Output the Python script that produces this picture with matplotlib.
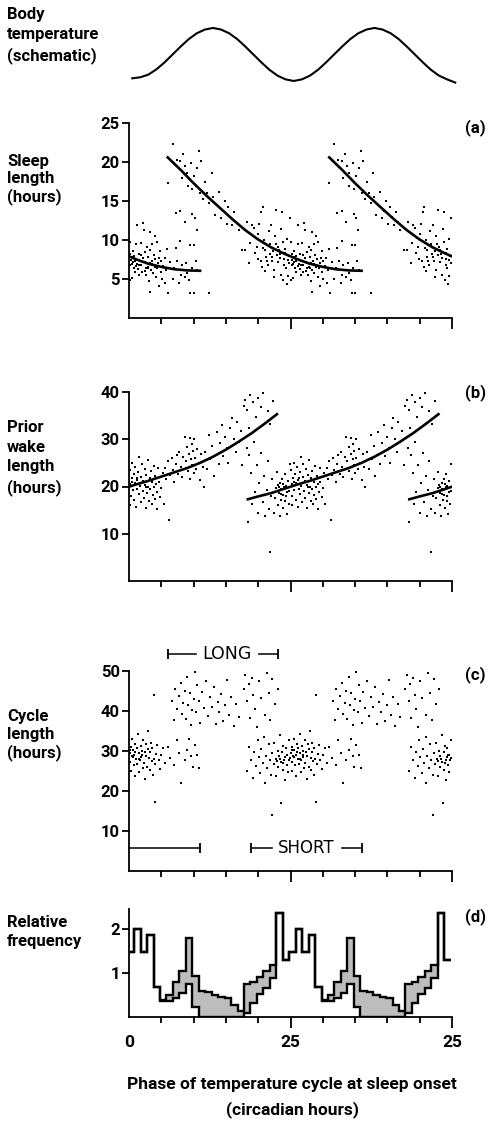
import numpy as np
import matplotlib
matplotlib.use("Agg")
import matplotlib.pyplot as plt

plt.rcParams['font.family'] = ['Roboto', 'DejaVu Sans']
plt.rcParams['font.weight'] = 'bold'

W, H = 494, 1127
PERIOD = 25  # data are double plotted: each cycle repeated 25 circadian hours later

# body temperature schematic
temp_phase = [0.5, 1.75, 3.0, 4.25, 5.5, 6.75, 8.0, 9.25, 10.5, 11.75, 13.0, 14.25, 15.5, 16.75,
              18.0, 19.25, 20.5, 21.75, 23.0, 24.25, 25.5, 26.75, 28.0, 29.25, 30.5, 31.75, 33.0,
              34.25, 35.5, 36.75, 38.0, 39.25, 40.5, 41.75, 43.0, 44.25, 45.5, 46.75, 48.0, 49.25, 50.5]
temp_level = [0.05, 0.07, 0.12, 0.22, 0.35, 0.5, 0.65, 0.79, 0.9, 0.97, 1.0, 0.97, 0.9, 0.79,
              0.65, 0.5, 0.35, 0.21, 0.1, 0.03, 0.0, 0.03, 0.1, 0.21, 0.35, 0.5, 0.65,
              0.79, 0.9, 0.97, 1.0, 0.97, 0.9, 0.79, 0.65, 0.5, 0.35, 0.21, 0.1, 0.03, -0.03]

# (a) sleep length vs phase (one cycle, hours)
sleep_pts = [
    (0.1, 9.8), (0.2, 8.3), (0.3, 7.5), (0.2, 6.8), (0.4, 5.2), (0.1, 4.9), (0.5, 7.9), (0.6, 7.2),
    (0.7, 6.5), (0.8, 8.0), (0.9, 6.0), (1.0, 7.6), (1.1, 9.5), (1.2, 12.0), (1.3, 7.0), (1.4, 6.3),
    (1.5, 8.2), (1.6, 5.6), (1.7, 7.4), (1.8, 9.6), (1.9, 6.8), (2.0, 5.9), (2.1, 12.2), (2.2, 7.8),
    (2.3, 11.3), (2.4, 6.1), (2.5, 8.5), (2.6, 7.1), (2.7, 5.5), (2.8, 9.2), (2.9, 6.6), (3.0, 7.9),
    (3.1, 4.8), (3.2, 8.8), (3.3, 11.1), (3.3, 3.4), (3.4, 6.2), (3.5, 7.3), (3.6, 9.5), (3.7, 5.8),
    (3.8, 8.1), (3.9, 6.9), (4.0, 10.5), (4.1, 7.6), (4.2, 5.3), (4.3, 9.8), (4.4, 6.4), (4.5, 7.1),
    (4.6, 4.2), (4.8, 8.6), (4.9, 6.0), (5.0, 7.4), (5.1, 5.1), (5.3, 6.7), (5.5, 7.8), (5.6, 4.5),
    (5.8, 6.2), (5.9, 8.9), (0.4, 7.0), (0.9, 7.3), (1.6, 6.9), (2.4, 7.2), (3.0, 6.4), (3.6, 7.0),
    (0.6, 8.6), (1.1, 6.7), (1.9, 8.1), (2.6, 6.4), (3.2, 7.1), (4.0, 6.6), (4.7, 7.7),
    (6.1, 3.2), (6.4, 7.2), (6.8, 5.0), (7.0, 6.5), (7.5, 7.4), (7.8, 4.6), (8.2, 6.9), (8.6, 5.3),
    (8.9, 7.1), (9.3, 4.9), (9.5, 3.3), (9.7, 6.4), (10.0, 3.3), (10.3, 7.4), (10.6, 6.2), (9.0, 5.8),
    (8.0, 5.6), (12.4, 3.3),
    (7.2, 9.0), (7.9, 9.9), (9.5, 9.4), (10.0, 9.4), (10.5, 11.3), (9.8, 13.3), (7.9, 13.7),
    (7.2, 13.5), (8.6, 12.4), (10.2, 12.8),
    (6.0, 17.3), (6.8, 22.3), (7.4, 20.3), (7.9, 20.2), (8.4, 21.0), (8.7, 19.5), (9.0, 18.6),
    (9.3, 17.8), (9.6, 19.9), (9.8, 16.5), (10.1, 18.2), (10.4, 17.0), (10.9, 21.4), (11.2, 20.1),
    (11.0, 16.0), (11.5, 15.3), (11.8, 17.4), (12.1, 16.1), (12.4, 14.8), (12.8, 18.6), (13.0, 15.6),
    (13.3, 13.2), (13.6, 14.5), (13.9, 16.2), (14.2, 12.9), (14.5, 13.8), (14.8, 15.0), (15.1, 12.1),
    (15.4, 14.3), (15.7, 13.0), (16.0, 11.9), (16.3, 13.6), (16.6, 12.4), (17.0, 11.3), (17.5, 8.7),
    (18.0, 8.7), (18.2, 12.3), (8.2, 18.0), (9.1, 16.9), (10.6, 19.2),
    (19.0, 11.9), (19.3, 11.6), (19.6, 10.3), (19.8, 9.2), (20.0, 10.8), (20.2, 12.1), (20.5, 13.6),
    (20.7, 14.2), (20.9, 10.0), (21.1, 8.7), (21.3, 7.4), (21.5, 6.8), (21.6, 11.2), (21.8, 9.5),
    (22.0, 12.0), (22.1, 7.9), (22.3, 8.6), (22.5, 6.2), (22.6, 10.6), (22.8, 13.9), (23.0, 9.1),
    (23.1, 7.2), (23.3, 8.3), (23.5, 5.6), (23.6, 11.5), (23.8, 9.8), (23.9, 4.9), (24.0, 7.6),
    (24.2, 8.9), (24.3, 6.5), (24.5, 10.2), (24.6, 5.4), (24.7, 8.0), (24.8, 7.1), (24.9, 12.8),
    (24.4, 4.4), (23.7, 13.6), (22.4, 5.3), (21.0, 6.1), (20.4, 7.3), (19.5, 8.4), (18.6, 7.1),
    (18.8, 9.6), (22.9, 8.1), (23.4, 7.8), (24.1, 8.4), (21.9, 8.3), (20.8, 9.0), (22.7, 9.5),
    (21.2, 7.9), (22.2, 7.3), (23.2, 8.8), (24.0, 6.9), (24.6, 7.5), (20.6, 6.6), (19.9, 7.6),
]
sleep_fit_phase = [6, 8, 10, 12, 14, 16, 18, 20, 22, 24, 26, 28, 30, 32, 34, 36]
sleep_fit = [20.6, 19.0, 17.3, 15.7, 14.2, 12.7, 11.3, 10.1, 9.1, 8.3, 7.6, 7.0, 6.6, 6.3, 6.15, 6.1]

# (b) prior wake length
wake_pts = [
    (0.1, 23.5), (0.2, 20.5), (0.3, 18.0), (0.2, 16.0), (0.4, 21.8), (0.5, 25.0), (0.6, 19.2),
    (0.7, 22.6), (0.8, 17.2), (0.9, 20.8), (1.0, 24.2), (1.1, 15.7), (1.2, 21.4), (1.3, 19.5),
    (1.4, 23.0), (1.5, 18.4), (1.6, 26.2), (1.7, 20.1), (1.8, 16.8), (1.9, 22.0), (2.0, 24.8),
    (2.1, 19.0), (2.2, 21.2), (2.3, 17.6), (2.4, 23.6), (2.5, 20.4), (2.6, 15.5), (2.7, 22.4),
    (2.8, 18.6), (2.9, 25.6), (3.0, 20.0), (3.1, 17.0), (3.2, 21.8), (3.3, 19.4), (3.4, 23.2),
    (3.5, 16.4), (3.6, 20.9), (3.7, 18.2), (3.8, 24.4), (3.9, 19.8), (4.0, 17.4), (4.1, 22.2),
    (4.2, 20.6), (4.3, 15.2), (4.4, 18.8), (4.5, 23.9), (4.6, 21.0), (4.8, 17.8), (5.0, 19.6),
    (5.2, 22.8), (5.4, 16.2), (0.5, 20.9), (1.3, 21.9), (2.0, 20.7), (2.7, 19.9), (3.5, 21.3),
    (5.6, 24.0), (5.8, 21.6), (6.0, 25.3), (6.2, 13.0), (6.4, 22.4), (6.6, 26.0), (6.8, 23.4),
    (7.0, 21.0), (7.2, 24.8), (7.4, 26.6), (7.6, 22.6), (7.8, 27.2), (8.0, 24.2), (8.2, 22.0),
    (8.4, 26.2), (8.6, 30.5), (8.8, 25.4), (9.0, 28.4), (9.1, 23.2), (9.3, 26.8), (9.4, 30.2),
    (9.5, 21.5), (9.6, 25.8), (9.7, 29.0), (9.8, 24.6), (9.9, 27.6), (10.0, 22.8), (10.1, 30.0),
    (10.2, 26.0), (10.4, 23.8), (10.6, 28.0), (10.8, 25.0), (11.0, 21.4), (11.2, 26.8), (11.4, 24.2),
    (11.6, 19.8), (11.8, 27.4),
    (12.1, 23.6), (12.4, 30.8), (12.6, 25.8), (12.9, 28.6), (13.1, 22.2), (13.4, 26.6), (13.6, 31.5),
    (13.9, 24.8), (14.1, 29.2), (14.4, 33.0), (14.6, 26.4), (14.9, 30.4), (15.2, 28.2), (15.4, 25.0),
    (15.7, 32.4), (15.9, 34.6), (16.2, 30.0), (16.5, 27.2), (16.7, 33.6), (17.0, 29.4), (17.3, 31.8),
    (17.5, 24.6),
    (17.8, 37.0), (18.0, 38.4), (18.3, 36.2), (18.5, 32.4), (18.8, 39.4), (19.2, 37.8), (19.6, 34.8),
    (20.0, 38.8), (20.4, 36.8), (20.8, 39.8), (21.1, 40.6), (21.5, 36.0), (21.9, 33.2), (22.3, 38.0),
    (18.2, 28.2), (18.4, 12.5), (18.6, 26.6), (18.9, 22.8), (19.1, 16.2), (19.3, 29.4), (19.5, 18.8),
    (19.8, 24.6), (20.0, 14.4), (20.2, 20.8), (20.5, 27.0), (20.7, 16.8), (20.9, 22.2), (21.1, 13.8),
    (21.3, 19.2), (21.5, 25.4), (21.7, 15.2), (21.8, 6.2), (22.0, 18.0), (22.2, 21.6), (22.4, 14.4),
    (22.6, 17.6), (22.8, 19.6), (22.9, 23.0), (23.0, 20.4), (23.1, 16.0), (23.2, 18.6), (23.3, 13.8),
    (23.4, 20.8), (23.5, 19.4), (23.6, 17.2), (23.7, 21.6), (23.8, 18.2), (23.9, 15.4), (24.0, 19.8),
    (24.1, 22.6), (24.2, 17.0), (24.3, 20.2), (24.4, 14.2), (24.5, 18.8), (24.6, 21.2), (24.7, 16.4),
    (24.8, 19.0), (24.9, 24.8), (23.5, 18.4), (23.9, 20.6), (24.3, 18.0), (23.2, 19.9),
]
wake_fit_phase = [18.4, 20, 22, 24, 26, 28, 30, 32, 34, 36, 38, 40, 42, 44, 46, 47.9]
wake_fit = [17.3, 17.9, 18.6, 19.5, 20.4, 21.2, 22.1, 23.0, 23.9, 25.0, 26.3, 27.8, 29.5, 31.3, 33.3, 35.3]

# (c) cycle length
cycle_pts = [
    (0.1, 29.5), (0.2, 27.2), (0.3, 31.0), (0.3, 25.0), (0.4, 28.6), (0.5, 33.0), (0.6, 30.2),
    (0.7, 26.4), (0.8, 29.0), (0.9, 23.6), (1.0, 31.8), (1.1, 28.0), (1.2, 30.6), (1.3, 26.8),
    (1.4, 34.2), (1.5, 29.4), (1.6, 24.6), (1.7, 27.6), (1.8, 31.2), (1.9, 28.4), (2.0, 30.0),
    (2.1, 25.8), (2.2, 32.6), (2.3, 27.0), (2.4, 29.8), (2.5, 23.0), (2.6, 28.8), (2.7, 31.6),
    (2.8, 26.0), (2.9, 30.4), (3.0, 35.0), (3.1, 28.2), (3.2, 25.2), (3.3, 29.6), (3.4, 32.0),
    (3.5, 27.4), (3.6, 30.8), (3.7, 24.0), (3.8, 28.0), (3.9, 44.0), (4.0, 17.2), (4.1, 26.6),
    (4.2, 29.2), (4.4, 31.4), (4.6, 27.8), (4.8, 25.4), (5.0, 29.0), (5.3, 30.6), (5.6, 27.0),
    (0.6, 28.4), (1.0, 29.8), (1.5, 27.9), (2.0, 28.9), (0.2, 30.1),
    (6.0, 31.0), (6.4, 28.2), (7.0, 26.4), (7.4, 32.6), (7.8, 29.4), (8.1, 22.0), (8.6, 27.6),
    (9.0, 30.2), (9.3, 33.0), (9.6, 28.8), (9.9, 26.0), (10.2, 31.4), (10.6, 29.0), (10.9, 25.6),
    (6.6, 42.4), (6.9, 37.8), (7.1, 45.6), (7.4, 40.6), (7.7, 43.8), (8.0, 47.0), (8.2, 39.2),
    (8.4, 42.0), (8.6, 45.0), (8.8, 38.0), (9.0, 48.4), (9.2, 41.6), (9.4, 44.4), (9.6, 36.4),
    (9.8, 40.2), (10.0, 43.0), (10.2, 49.8), (10.4, 39.6), (10.6, 46.4), (10.8, 42.6), (11.0, 37.0),
    (11.3, 44.8), (11.6, 40.8), (11.9, 47.6), (12.2, 38.6), (12.5, 43.4), (12.8, 41.0), (13.1, 46.0),
    (13.4, 36.6), (13.7, 42.2), (14.0, 39.8), (14.3, 44.2), (14.6, 37.4), (14.9, 41.4), (15.2, 47.8),
    (15.5, 39.0), (15.8, 43.6), (16.2, 36.2), (16.6, 41.8), (17.0, 38.4),
    (17.8, 45.6), (18.0, 49.0), (18.3, 42.6), (18.5, 46.8), (18.7, 38.2), (19.0, 48.2), (19.2, 44.0),
    (19.5, 40.4), (19.8, 36.0), (20.1, 47.4), (20.4, 43.2), (20.8, 50.6), (21.0, 39.0), (21.3, 49.4),
    (21.6, 44.6), (21.9, 37.6), (22.2, 48.0), (22.6, 41.8), (23.0, 45.4),
    (18.3, 25.0), (18.6, 31.0), (18.9, 27.6), (19.2, 23.2), (19.4, 29.8), (19.7, 26.2), (19.9, 32.6),
    (20.1, 28.4), (20.3, 24.4), (20.5, 30.4), (20.7, 27.0), (20.9, 33.4), (21.0, 22.0), (21.2, 28.8),
    (21.4, 25.8), (21.6, 31.6), (21.8, 27.8), (22.0, 24.0), (22.1, 14.0), (22.2, 29.4), (22.4, 26.6),
    (22.5, 32.0), (22.7, 28.0), (22.8, 23.6), (23.0, 30.0), (23.1, 26.0), (23.2, 28.6), (23.4, 34.0),
    (23.5, 27.2), (23.6, 16.9), (23.7, 29.6), (23.8, 25.2), (23.9, 31.2), (24.0, 27.6), (24.1, 22.6),
    (24.2, 28.4), (24.3, 30.8), (24.4, 26.4), (24.5, 29.0), (24.6, 24.8), (24.7, 27.8), (24.8, 32.8),
    (24.9, 28.2), (23.3, 28.0), (23.9, 27.0), (24.4, 28.9), (22.9, 27.4),
]
long_span = (6.0, 23.1)
short_span = (18.9, 36.0)

# (d) relative frequency, 1-h bins starting at -0.2 h
bin_start = -0.2
freq_upper = [1.48, 2.0, 1.48, 1.86, 0.67, 0.38, 0.5, 0.8, 1.04, 1.8, 0.93, 0.6, 0.57, 0.51,
              0.45, 0.42, 0.28, 0.13, 0.74, 0.79, 0.9, 1.05, 1.19, 2.36, 1.3]
freq_lower = [1.48, 2.0, 1.48, 1.86, 0.67, 0.36, 0.37, 0.42, 0.54, 0.74, 0.22, 0, 0, 0,
              0, 0, 0, 0, 0.1, 0.32, 0.52, 0.65, 0.88, 2.36, 1.3]

fig = plt.figure(figsize=(W / 100, H / 100), dpi=100)


def add_ax(top, bottom):
    return fig.add_axes([129 / W, 1 - bottom / H, 323 / W, (bottom - top) / H])


def style(ax, ymax, yticks):
    ax.set_xlim(0, 50)
    ax.set_ylim(0, ymax)
    ax.spines['top'].set_visible(False)
    ax.spines['right'].set_visible(False)
    ax.spines['left'].set_linewidth(1.3)
    ax.spines['bottom'].set_linewidth(1.3)
    ax.set_xticks([25, 50])
    ax.set_xticks([5, 10, 15, 20, 30, 35, 40, 45], minor=True)
    ax.tick_params(axis='x', which='major', length=8, width=1.3, labelbottom=False)
    ax.tick_params(axis='x', which='minor', length=4, width=1.3)
    ax.set_yticks(yticks)
    ax.tick_params(axis='y', length=5, width=1.3, pad=1.5, labelsize=12)


def scatter_double(ax, pts):
    ph = np.array([p for p, v in pts])
    val = np.array([v for p, v in pts])
    for off in (0, PERIOD):
        ax.scatter(ph + off, val, s=3.0, marker='s', color='k', linewidths=0)


def curve_triple(ax, xs, ys):
    for off in (-PERIOD, 0, PERIOD):
        ax.plot(np.array(xs) + off, ys, color='k', lw=1.9)


def left_label(y, text, spacing):
    fig.text(7 / W, 1 - y / H, text, ha='left', va='top', fontsize=12, linespacing=spacing)


# temperature schematic
axt = add_ax(20, 90)
axt.set_xlim(0, 50)
axt.set_ylim(-0.17, 1.15)
axt.axis('off')
axt.plot(temp_phase, temp_level, color='k', lw=1.5, clip_on=False)
left_label(7, 'Body\ntemperature\n(schematic)', 1.38)

# (a)
axa = add_ax(123, 318.5)
style(axa, 25, [5, 10, 15, 20, 25])
scatter_double(axa, sleep_pts)
curve_triple(axa, sleep_fit_phase, sleep_fit)
left_label(154, 'Sleep\nlength\n(hours)', 1.18)
fig.text(465 / W, 1 - 128 / H, '(a)', ha='left', va='center', fontsize=12)

# (b)
axb = add_ax(392, 581)
style(axb, 40, [10, 20, 30, 40])
scatter_double(axb, wake_pts)
curve_triple(axb, wake_fit_phase, wake_fit)
left_label(420, 'Prior\nwake\nlength\n(hours)', 1.38)
fig.text(465 / W, 1 - 393 / H, '(b)', ha='left', va='center', fontsize=12)

# (c)
axc = add_ax(671, 870.5)
style(axc, 50, [10, 20, 30, 40, 50])
scatter_double(axc, cycle_pts)
left_label(709, 'Cycle\nlength\n(hours)', 1.22)
fig.text(465 / W, 1 - 675 / H, '(c)', ha='left', va='center', fontsize=12)
bar_kw = dict(color='k', lw=1.1, clip_on=False)
y_long = 54.3
axc.plot(long_span, [y_long, y_long], marker='|', markersize=7, mew=1.3, **bar_kw)
axc.text(sum(long_span) / 2 + 0.6, y_long, 'LONG', ha='center', va='center', fontsize=12.5,
         family='DejaVu Sans', fontweight='normal', backgroundcolor='white')
y_short = 5.7
axc.plot([0, 11], [y_short, y_short], **bar_kw)
axc.plot([11], [y_short], marker='|', markersize=7, mew=1.3, **bar_kw)
axc.plot(short_span, [y_short, y_short], marker='|', markersize=7, mew=1.3, **bar_kw)
axc.text(sum(short_span) / 2, y_short, 'SHORT', ha='center', va='center', fontsize=12,
         family='DejaVu Sans', fontweight='normal', backgroundcolor='white')

# (d)
axd = add_ax(909, 1017)
style(axd, 2.45, [1, 2])
edges = bin_start + np.arange(2 * len(freq_upper) + 1)
up = np.array(freq_upper * 2)
lo = np.array(freq_lower * 2)
axd.stairs(up, edges, baseline=lo, fill=True, color='#bdbdbd', lw=0)
axd.stairs(up, edges, baseline=None, color='k', lw=1.7)
axd.stairs(lo, edges, baseline=None, color='k', lw=1.7)
axd.set_xticks([0, 25, 50])
axd.set_xticklabels(['0', '25', '25'])
axd.tick_params(axis='x', which='major', labelbottom=True, labelsize=12.5, pad=5)
axd.xaxis.get_major_ticks()[0].tick1line.set_visible(False)
left_label(915, 'Relative\nfrequency', 1.3)
fig.text(465 / W, 1 - 917 / H, '(d)', ha='left', va='center', fontsize=12)

fig.text(292 / W, 1 - 1085 / H, 'Phase of temperature cycle at sleep onset',
         ha='center', va='center', fontsize=12.5)
fig.text(292 / W, 1 - 1110 / H, '(circadian hours)', ha='center', va='center', fontsize=12.5)

fig.savefig('out.png', dpi=100)
